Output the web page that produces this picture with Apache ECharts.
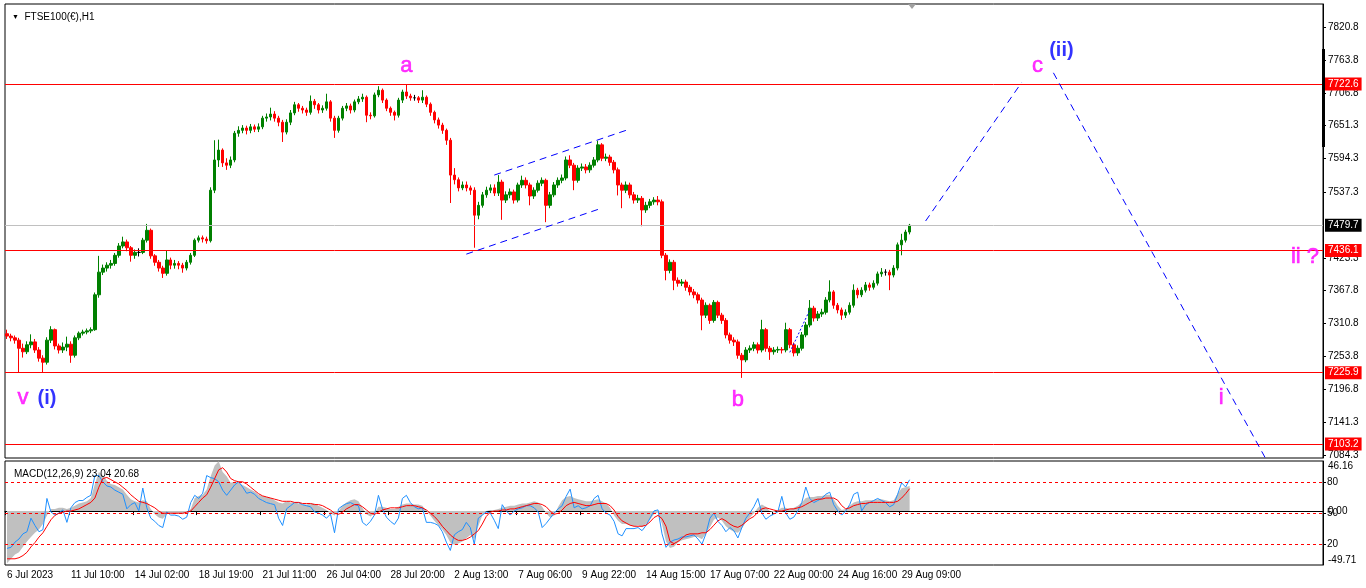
<!DOCTYPE html>
<html><head><meta charset="utf-8">
<script src="https://cdn.jsdelivr.net/npm/echarts@6/dist/echarts.min.js"></script>
<style>html,body{margin:0;padding:0;background:#fff}#c{width:1366px;height:588px}</style>
</head><body><div id="c"></div><script>
const tickLabels = ['6 Jul 2023','11 Jul 10:00','14 Jul 02:00','18 Jul 19:00','21 Jul 11:00','26 Jul 04:00','28 Jul 20:00','2 Aug 13:00','7 Aug 06:00','9 Aug 22:00','14 Aug 15:00','17 Aug 07:00','22 Aug 00:00','24 Aug 16:00','29 Aug 09:00'];
const priceTicks = [7820.8,7763.8,7706.8,7651.3,7594.3,7537.3,7423.3,7367.8,7310.8,7253.8,7196.8,7141.3,7084.3];
const macdMax = 46.16;
const macdMin = -49.71;
const macdZero = 0;
const oscTicks = [80,50,20];
const levelPrices = [7722.6,7436.1,7225.9,7103.2];
const bidPrice = 7479.7;

const opens = [7293,7289,7286,7282,7268,7262,7274,7279,7265,7251,
7244,7282,7300,7272,7265,7270,7275,7256,7286,7294,
7296,7298,7300,7360,7399,7406,7411,7414,7428,7444,
7451,7441,7428,7433,7433,7454,7471,7427,7416,7406,
7397,7420,7411,7414,7411,7406,7416,7428,7454,7458,
7456,7453,7540,7592,7609,7587,7583,7592,7638,7643,
7647,7643,7649,7645,7649,7664,7666,7671,7664,7657,
7640,7657,7673,7687,7681,7678,7674,7693,7687,7678,
7681,7692,7664,7643,7664,7681,7685,7678,7692,7697,
7700,7669,7668,7704,7712,7695,7681,7674,7669,7695,
7709,7702,7699,7699,7695,7700,7688,7674,7661,7652,
7643,7626,7566,7558,7544,7549,7544,7540,7497,7514,
7532,7540,7544,7535,7554,7523,7532,7537,7523,7549,
7557,7549,7530,7540,7552,7557,7514,7532,7549,7557,
7561,7592,7583,7557,7578,7580,7575,7583,7592,7618,
7595,7597,7588,7575,7549,7540,7549,7532,7523,7526,
7506,7514,7520,7523,7520,7428,7402,7416,7385,7380,
7382,7373,7365,7360,7351,7325,7342,7316,7347,7325,
7316,7291,7282,7279,7256,7248,7265,7268,7274,7265,
7300,7268,7262,7265,7266,7265,7300,7274,7260,7268,
7291,7308,7337,7320,7327,7330,7351,7365,7342,7334,
7325,7330,7342,7368,7360,7368,7377,7373,7380,7396,
7399,7399,7394,7406,7446,7454,7468];
const closes = [7289,7286,7282,7268,7262,7274,7279,7265,7251,7244,
7282,7300,7272,7265,7270,7275,7256,7286,7294,7296,
7298,7300,7360,7399,7406,7411,7414,7428,7444,7451,
7441,7428,7433,7433,7454,7471,7427,7416,7406,7397,
7420,7411,7414,7411,7406,7416,7428,7454,7458,7456,
7453,7540,7592,7609,7587,7583,7592,7638,7643,7647,
7643,7649,7645,7649,7664,7666,7671,7664,7657,7640,
7657,7673,7687,7681,7678,7674,7693,7687,7678,7681,
7692,7664,7643,7664,7681,7685,7678,7692,7697,7700,
7669,7668,7704,7712,7695,7681,7674,7669,7695,7709,
7702,7699,7699,7695,7700,7688,7674,7661,7652,7643,
7626,7566,7558,7544,7549,7544,7540,7497,7514,7532,
7540,7544,7535,7554,7523,7532,7537,7523,7549,7557,
7549,7530,7540,7552,7557,7514,7532,7549,7557,7561,
7592,7583,7557,7578,7580,7575,7583,7592,7618,7595,
7597,7588,7575,7549,7540,7549,7532,7523,7526,7506,
7514,7520,7523,7520,7428,7402,7416,7385,7380,7382,
7373,7365,7360,7351,7325,7342,7316,7347,7325,7316,
7291,7282,7279,7256,7248,7265,7268,7274,7265,7300,
7268,7262,7265,7266,7265,7300,7274,7260,7268,7291,
7308,7337,7320,7327,7330,7351,7365,7342,7334,7325,
7330,7342,7368,7360,7368,7377,7373,7380,7396,7399,
7399,7394,7406,7446,7454,7468,7479.7];
const lows = [7284,7280,7276,7227,7252,7258,7268,7260,7245,7227,
7240,7277,7266,7259,7260,7263,7243,7252,7282,7290,
7292,7294,7298,7355,7394,7400,7405,7410,7424,7440,
7435,7417,7422,7426,7430,7450,7422,7410,7400,7389,
7393,7404,7405,7404,7398,7402,7412,7425,7450,7450,
7448,7450,7535,7580,7580,7575,7578,7588,7632,7638,
7636,7638,7640,7640,7645,7658,7660,7658,7650,7623,
7636,7652,7669,7675,7672,7668,7670,7680,7672,7673,
7677,7658,7630,7639,7660,7676,7672,7674,7688,7692,
7657,7662,7665,7700,7690,7676,7668,7660,7665,7690,
7697,7694,7694,7690,7690,7683,7668,7655,7646,7637,
7618,7518,7550,7538,7540,7538,7532,7441,7490,7510,
7527,7535,7530,7530,7489,7518,7526,7517,7519,7544,
7543,7514,7525,7536,7547,7485,7509,7528,7544,7552,
7557,7578,7540,7553,7573,7569,7570,7579,7588,7590,
7590,7582,7569,7531,7509,7535,7526,7517,7518,7478,
7501,7509,7515,7514,7423,7385,7397,7368,7374,7375,
7367,7359,7354,7345,7299,7320,7310,7312,7320,7310,
7285,7276,7272,7250,7217,7244,7260,7263,7259,7261,
7262,7248,7257,7260,7259,7261,7268,7254,7255,7264,
7287,7304,7314,7315,7322,7326,7347,7336,7328,7317,
7320,7326,7338,7354,7356,7364,7367,7369,7376,7391,
7393,7368,7390,7402,7428,7450,7464];
const highs = [7300,7293,7290,7286,7276,7280,7292,7284,7270,7256,
7287,7306,7302,7276,7278,7288,7280,7290,7297,7300,
7302,7304,7364,7427,7412,7416,7420,7432,7449,7460,
7455,7444,7438,7440,7458,7482,7474,7430,7420,7410,
7437,7424,7420,7418,7415,7420,7432,7457,7462,7462,
7460,7545,7626,7627,7612,7595,7598,7642,7650,7652,
7651,7654,7653,7655,7668,7672,7682,7676,7668,7661,
7662,7678,7692,7690,7685,7682,7703,7697,7690,7686,
7706,7695,7668,7668,7685,7690,7689,7696,7702,7706,
7703,7674,7708,7719,7715,7698,7684,7677,7699,7713,
7722,7706,7704,7702,7712,7703,7691,7677,7665,7656,
7646,7630,7578,7562,7555,7555,7548,7545,7520,7537,
7546,7550,7550,7566,7558,7538,7543,7541,7553,7565,
7562,7553,7545,7557,7562,7560,7537,7554,7562,7567,
7598,7600,7587,7583,7586,7585,7588,7597,7625,7621,
7603,7601,7592,7579,7553,7555,7553,7537,7532,7530,
7520,7525,7528,7530,7524,7432,7421,7420,7390,7387,
7386,7377,7370,7364,7355,7347,7345,7351,7350,7329,
7320,7295,7287,7283,7260,7270,7273,7279,7278,7317,
7303,7272,7270,7271,7270,7312,7303,7278,7273,7296,
7313,7351,7341,7332,7336,7356,7385,7368,7346,7338,
7335,7347,7378,7372,7373,7382,7381,7385,7400,7406,
7404,7403,7411,7450,7465,7472,7482];

const macdHist = [-48,-44,-40,-38,-33,-28,-24,-20,-17,-12,
-4,2,2,3,3,2,3,5,7,8,
9,12,25,36,33,28,25,24,22,20,
15,11,9,8,10,9,2,-3,-6,-7,
-3,-2,-3,-2,-3,-1,2,12,14,15,
20,32,42,46,36,32,26,27,26,24,
22,20,18,15,14,13,12,10,8,7,
9,8,8,7,6,6,7,7,5,3,
1,-2,-4,0,5,8,10,11,9,3,
-3,-5,-2,4,4,3,2,2,4,6,
7,7,6,6,5,0,-4,-9,-13,-17,
-22,-29,-31,-30,-28,-25,-22,-26,-14,-4,
0,1,1,2,3,4,5,5,6,7,
7,8,9,8,4,-2,-6,-4,4,10,
13,14,12,11,10,9,9,10,11,9,
7,3,-4,-9,-12,-12,-13,-14,-13,-15,
-12,-8,-3,-1,-12,-28,-34,-33,-29,-27,
-26,-25,-24,-24,-26,-21,-15,-8,-6,-9,
-14,-17,-19,-20,-16,-10,-6,-2,3,6,
4,0,-1,1,3,3,2,3,5,8,
12,13,13,14,14,15,15,11,5,1,
2,5,8,9,9,10,10,10,11,11,
10,9,10,16,21,22,23.04];
const macdSignal = [-44,-44,-44,-43,-41,-38,-33,-29,-24,-20,
-14,-8,-4,-2,-1,0,0,1,2,4,
6,8,12,22,30,31,29,27,25,22,
19,15,12,9,8,7,5,3,0,-2,
-2,-2,-2,-2,-2,-1,0,4,8,12,
15,22,30,38,40,36,30,28,27,27,
25,22,19,16,14,13,12,11,10,9,
9,9,8,8,7,7,7,6,6,5,
3,1,-2,-3,-1,2,4,6,6,4,
1,-2,-3,-1,1,2,3,3,3,4,
5,5,5,4,3,1,-2,-5,-9,-14,
-18,-22,-25,-27,-27,-26,-24,-21,-18,-12,
-5,-1,0,0,1,1,2,2,3,4,
5,6,7,7,6,4,0,-3,-2,1,
5,7,8,7,6,5,5,6,7,7,
7,5,1,-5,-9,-11,-13,-14,-14,-14,
-13,-10,-6,-4,-7,-14,-28,-30,-28,-25,
-22,-21,-21,-21,-20,-20,-17,-13,-9,-7,
-9,-12,-14,-15,-13,-10,-7,-5,-1,2,
3,2,1,0,0,1,2,2,3,4,
6,8,10,11,11,12,12,12,10,5,
2,3,5,6,7,7,8,8,8,8,
8,8,8,9,12,16,20.68];
const oscLine = [16,17,22,25,30,32,45,38,32,34,
64,51,48,50,53,41,55,60,62,62,
65,67,86,86,80,76,75,72,70,68,
54,58,60,52,74,55,45,42,38,36,
51,48,48,47,44,46,60,67,64,69,
86,84,83,80,72,67,72,77,80,75,
69,70,68,64,62,60,59,58,45,38,
54,57,60,60,58,57,56,51,50,48,
45,49,31,54,57,59,60,58,57,41,
38,42,48,67,54,46,42,39,45,64,
67,60,56,54,55,41,41,40,38,32,
22,14,29,32,34,41,36,20,45,48,
51,50,43,35,58,52,48,52,54,55,
57,57,55,51,36,40,45,50,54,57,
66,73,55,57,54,55,57,64,67,54,
50,48,42,30,28,35,35,35,36,33,
38,45,52,53,30,17,22,24,25,27,
27,28,29,25,20,30,45,50,42,38,
32,36,33,26,36,45,50,56,64,50,
44,47,49,51,66,50,44,46,52,60,
75,64,60,62,64,68,70,58,52,48,
52,58,68,70,52,58,60,62,64,62,
60,56,58,68,79,75,82];

// wave projection / channel lines: [category index, price]
const projUp = [[230,7487],[254,7725]];
const projDown = [[262,7742],[315,7080]];
const chanUpper = [[122,7566],[155,7643]];
const chanLower = [[115,7430],[148,7507]];
const miniTrend = [[196,7261],[201,7334]];

const magentaTexts = ['a','b','c','v','i','ii ?'];
const magentaIdx = [100,183,258,4,304,325];
const magentaPrice = [7754,7179,7754,7182,7182,7425];
const blueTexts = ['(ii)','(i)'];
const blueIdx = [264,10];
const bluePrice = [7781,7182];

const N = 330;
const categories = [];
for (let i = 0; i < N; i++) categories.push('c' + i);
const candleData = opens.map((o, i) => [o, closes[i], lows[i], highs[i]]);
const FONT = 'Liberation Sans';

function lbl(texts, idx, price) {
  return texts.map((t, i) => ({ value: [idx[i], price[i]], name: t }));
}
function dashLine(data, dash) {
  return { type: 'line', xAxisIndex: 0, yAxisIndex: 0, data: data, symbol: 'none', silent: true,
    lineStyle: { color: '#0000ff', width: 1, type: dash }, z: 5 };
}
function macdAxis(vals, va, show) {
  return { type: 'value', gridIndex: 1, position: 'right', min: macdMin, max: macdMax,
    splitLine: { show: false },
    axisLine: { show: show, lineStyle: { color: '#000' } },
    axisTick: { show: false },
    axisLabel: { show: true, customValues: vals, margin: 5, verticalAlign: va, fontFamily: FONT, fontSize: 10, color: '#000',
      formatter: v => v.toFixed(2) } };
}
const isTick = (index) => index % 16 === 0 && index / 16 < tickLabels.length;

const chart = echarts.init(document.getElementById('c'), null, { renderer: 'canvas' });
chart.setOption({
  animation: false,
  backgroundColor: '#ffffff',
  title: [
    { text: '{t|▼}  FTSE100(€),H1', left: 7, top: 7,
      textStyle: { fontFamily: FONT, fontSize: 10, fontWeight: 'normal', color: '#000',
        rich: { t: { fontSize: 7, color: '#000' } } } },
    { text: 'MACD(12,26,9) ' + macdHist[macdHist.length - 1].toFixed(2) + ' ' + macdSignal[macdSignal.length - 1].toFixed(2),
      left: 9, top: 464, textStyle: { fontFamily: FONT, fontSize: 10, fontWeight: 'normal', color: '#000' } }
  ],
  grid: [
    { left: 5, right: 43, top: 4, height: 454, show: true, borderColor: '#000', borderWidth: 1, backgroundColor: 'transparent' },
    { left: 5, right: 43, top: 461, height: 104, show: true, borderColor: '#000', borderWidth: 1, backgroundColor: 'transparent' }
  ],
  xAxis: [
    { type: 'category', gridIndex: 0, data: categories, boundaryGap: true,
      axisLine: { show: false }, axisTick: { show: false }, axisLabel: { show: false }, splitLine: { show: false } },
    { type: 'category', gridIndex: 1, data: categories, boundaryGap: true,
      axisLine: { show: true, lineStyle: { color: '#000' } },
      axisTick: { show: true, interval: isTick, length: 4, lineStyle: { color: '#000' } },
      axisLabel: { show: true, interval: isTick, align: 'left', margin: 5, fontFamily: FONT, fontSize: 10, color: '#000',
        formatter: (v, i) => (i % 16 === 0 ? (tickLabels[i / 16] || '') : '') },
      splitLine: { show: false } }
  ],
  yAxis: [
    { type: 'value', gridIndex: 0, position: 'right', min: 7079.2, max: 7860.4,
      splitLine: { show: false },
      axisLine: { show: true, lineStyle: { color: '#000' } },
      axisTick: { show: true, length: 3, customValues: priceTicks, lineStyle: { color: '#000' } },
      axisLabel: { show: true, customValues: priceTicks, margin: 5, fontFamily: FONT, fontSize: 10, color: '#000',
        formatter: v => v.toFixed(1) } },
    macdAxis([macdZero], 'middle', true),
    { type: 'value', gridIndex: 1, position: 'right', min: 0, max: 100, offset: 0,
      splitLine: { show: false }, axisLine: { show: false },
      axisTick: { show: true, length: 3, customValues: oscTicks, lineStyle: { color: '#000' } },
      axisLabel: { show: true, customValues: oscTicks, margin: 4, fontFamily: FONT, fontSize: 10, color: '#000',
        formatter: v => String(v) } },
    macdAxis([macdMax], 'top', false),
    macdAxis([macdMin], 'bottom', false)
  ],
  series: [
    { type: 'candlestick', xAxisIndex: 0, yAxisIndex: 0, data: candleData, barWidth: 3,
      itemStyle: { color: '#008000', color0: '#ff0000', borderColor: '#008000', borderColor0: '#ff0000',
        borderColorDoji: '#000000', borderWidth: 1 },
      markLine: { silent: true, symbol: 'none', animation: false,
        data: levelPrices.map(p => ({ yAxis: p, lineStyle: { color: '#ff0000', width: 1, type: 'solid' },
            label: { backgroundColor: '#ff0000', color: '#ffffff' } }))
          .concat([{ yAxis: bidPrice, lineStyle: { color: '#c0c0c0', width: 1, type: 'solid' },
            label: { backgroundColor: '#000000', color: '#ffffff' } }]),
        label: { show: true, position: 'end', distance: 2, fontFamily: FONT, fontSize: 10, padding: [2, 3, 1, 3],
          formatter: p => p.value.toFixed(1) } },
      z: 3 },
    dashLine(projUp, [7, 5]),
    dashLine(projDown, [7, 5]),
    dashLine(chanUpper, [7, 5]),
    dashLine(chanLower, [7, 5]),
    dashLine(miniTrend, [2, 2]),
    { type: 'scatter', xAxisIndex: 0, yAxisIndex: 0, data: lbl(magentaTexts, magentaIdx, magentaPrice),
      symbol: 'circle', symbolSize: 2, itemStyle: { color: 'rgba(0,0,0,0)' }, silent: true, z: 6,
      label: { show: true, position: 'inside', formatter: p => p.name, color: '#ff00ff', fontFamily: FONT, fontSize: 22,
        textBorderColor: '#ff00ff', textBorderWidth: 0.6 } },
    { type: 'scatter', xAxisIndex: 0, yAxisIndex: 0, data: lbl(blueTexts, blueIdx, bluePrice),
      symbol: 'circle', symbolSize: 2, itemStyle: { color: 'rgba(0,0,0,0)' }, silent: true, z: 6,
      label: { show: true, position: 'inside', formatter: p => p.name, color: '#0000ff', fontFamily: FONT, fontSize: 20, fontWeight: 'bold' } },
    { type: 'line', xAxisIndex: 1, yAxisIndex: 1, data: macdHist, symbol: 'none', silent: true,
      lineStyle: { width: 0, color: '#c0c0c0' }, areaStyle: { color: '#c0c0c0', opacity: 1, origin: 0 }, z: 2 },
    { type: 'line', xAxisIndex: 1, yAxisIndex: 1, data: macdSignal, symbol: 'none', silent: true,
      lineStyle: { color: '#ff0000', width: 1 }, z: 4 },
    { type: 'line', xAxisIndex: 1, yAxisIndex: 2, data: oscLine, symbol: 'none', silent: true,
      lineStyle: { color: '#1e90ff', width: 1 }, z: 3,
      markLine: { silent: true, symbol: 'none', label: { show: false },
        lineStyle: { color: '#ff0000', width: 1, type: [3, 3] },
        data: oscTicks.map(v => ({ yAxis: v })) } }
  ],
  graphic: [
    { type: 'rect', shape: { x: 1322, y: 49, width: 3, height: 98 }, style: { fill: '#000' }, z: 100 },
    { type: 'polygon', shape: { points: [[908, 4], [916, 4], [912, 9]] }, style: { fill: '#a0a0a0' }, z: 100 }
  ]
});
</script></body></html>
